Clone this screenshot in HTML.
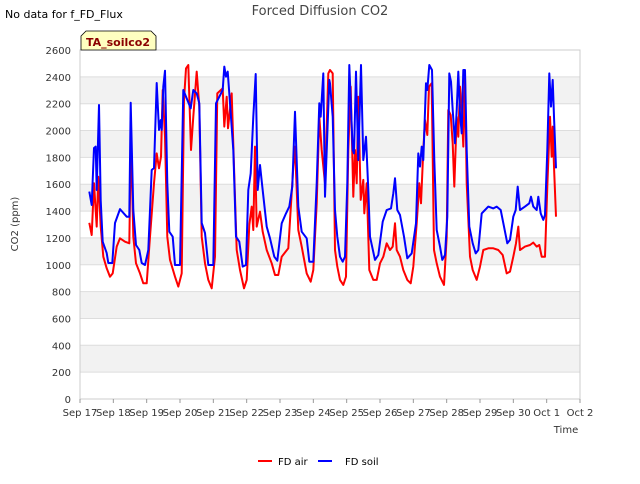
<!DOCTYPE html>
<html><head><meta charset="utf-8"><style>
body{margin:0;background:#fff;font-family:"DejaVu Sans","Liberation Sans",sans-serif;}
</style></head><body>
<svg id="chart" width="640" height="480" xmlns="http://www.w3.org/2000/svg" font-family="DejaVu Sans, Liberation Sans, sans-serif">
<text x="5" y="18" font-size="11" fill="#000">No data for f_FD_Flux</text>
<text x="320" y="15" font-size="13" fill="#444" text-anchor="middle">Forced Diffusion CO2</text>
<g id="plot"></g>
<g>
<path d="M81,50 L81,36 L86,31 L151,31 L156,36 L156,50 Z" fill="#ffffc0" stroke="#000" stroke-width="0.8"/>
<text x="118" y="46" font-size="11" font-weight="bold" fill="#8b0000" text-anchor="middle">TA_soilco2</text>
</g>
<text transform="translate(18,224) rotate(-90)" font-size="10" fill="#333" text-anchor="middle">CO2 (ppm)</text>
<text x="566" y="433" font-size="10" fill="#333" text-anchor="middle">Time</text>
<g>
<line x1="258" y1="461" x2="272" y2="461" stroke="#ff0000" stroke-width="2"/>
<text x="278" y="465" font-size="10" fill="#000">FD air</text>
<line x1="318" y1="461" x2="332" y2="461" stroke="#0000ff" stroke-width="2"/>
<text x="345" y="465" font-size="10" fill="#000">FD soil</text>
</g>
</svg>
<script>
const xTickLabels=["Sep 17","Sep 18","Sep 19","Sep 20","Sep 21","Sep 22","Sep 23","Sep 24","Sep 25","Sep 26","Sep 27","Sep 28","Sep 29","Sep 30","Oct 1","Oct 2"];
const yTicks=[0,200,400,600,800,1000,1200,1400,1600,1800,2000,2200,2400,2600];
const soilT=[0.28,0.35,0.42,0.47,0.50,0.57,0.62,0.68,0.80,0.85,0.97,1.05,1.20,1.40,1.48,1.52,1.60,1.68,1.78,1.85,1.95,2.05,2.15,2.22,2.30,2.37,2.42,2.45,2.50,2.55,2.62,2.68,2.78,2.85,3.00,3.10,3.32,3.40,3.50,3.58,3.65,3.75,3.85,4.00,4.08,4.28,4.33,4.38,4.43,4.48,4.60,4.68,4.78,4.88,4.98,5.05,5.12,5.20,5.27,5.33,5.40,5.47,5.60,5.70,5.83,5.92,6.05,6.18,6.28,6.37,6.45,6.55,6.65,6.80,6.88,7.00,7.10,7.18,7.22,7.30,7.35,7.48,7.50,7.58,7.65,7.72,7.80,7.88,7.95,8.02,8.08,8.18,8.22,8.28,8.35,8.43,8.50,8.58,8.65,8.70,8.85,8.95,9.08,9.20,9.33,9.40,9.45,9.52,9.60,9.72,9.82,9.95,10.08,10.15,10.20,10.25,10.30,10.38,10.42,10.48,10.56,10.63,10.70,10.80,10.87,10.95,11.02,11.08,11.13,11.18,11.25,11.30,11.35,11.40,11.45,11.50,11.55,11.60,11.68,11.78,11.87,11.95,12.05,12.15,12.25,12.40,12.50,12.62,12.72,12.82,12.90,13.00,13.07,13.13,13.20,13.35,13.48,13.53,13.60,13.70,13.75,13.82,13.90,13.95,14.02,14.08,14.13,14.18,14.22,14.28];
const soilV=[1545,1445,1870,1880,1557,2190,1480,1172,1087,1013,1013,1311,1415,1358,1358,2207,1408,1147,1110,1013,998,1110,1706,1721,2354,2004,2078,2004,2327,2446,1609,1246,1209,998,998,2302,2166,2302,2277,2203,1311,1237,998,998,2203,2302,2476,2401,2439,2277,1855,1209,1172,986,998,1557,1681,2103,2421,1557,1743,1582,1284,1197,1060,1030,1309,1383,1433,1582,2140,1433,1246,1197,1023,1023,1607,2203,2103,2426,1507,2377,2352,2103,1408,1209,1060,1023,1060,1607,2488,1855,1830,2439,1780,2488,1780,1954,1557,1209,1036,1073,1321,1408,1420,1532,1644,1408,1371,1209,1048,1085,1309,1830,1731,1880,1780,2352,2302,2488,2451,1780,1259,1135,1036,1073,1358,2426,2364,2153,1905,2153,2439,2128,1979,2451,2451,1855,1284,1160,1085,1110,1383,1408,1433,1420,1433,1408,1284,1160,1185,1358,1408,1582,1408,1433,1458,1507,1433,1408,1507,1383,1334,1371,1855,2426,2178,2377,2103,1719];
const airT=[0.28,0.35,0.42,0.50,0.55,0.62,0.70,0.80,0.90,0.98,1.10,1.20,1.35,1.48,1.53,1.60,1.68,1.80,1.90,2.00,2.10,2.22,2.30,2.37,2.43,2.48,2.55,2.62,2.70,2.85,2.95,3.05,3.12,3.18,3.25,3.33,3.40,3.50,3.58,3.65,3.75,3.85,3.95,4.05,4.12,4.28,4.33,4.40,4.44,4.55,4.62,4.70,4.80,4.92,5.00,5.08,5.15,5.20,5.25,5.30,5.40,5.48,5.60,5.75,5.85,5.95,6.05,6.25,6.40,6.45,6.55,6.65,6.80,6.92,7.00,7.10,7.18,7.25,7.35,7.45,7.50,7.58,7.65,7.72,7.80,7.90,7.98,8.05,8.12,8.20,8.25,8.30,8.35,8.42,8.50,8.53,8.60,8.68,8.80,8.90,9.00,9.10,9.20,9.30,9.38,9.45,9.50,9.60,9.70,9.82,9.92,10.00,10.10,10.18,10.23,10.30,10.35,10.42,10.47,10.55,10.62,10.70,10.80,10.92,11.00,11.05,11.12,11.18,11.23,11.30,11.35,11.40,11.45,11.50,11.55,11.60,11.70,11.78,11.90,12.00,12.10,12.25,12.40,12.55,12.68,12.80,12.90,13.00,13.08,13.15,13.20,13.35,13.50,13.60,13.70,13.78,13.85,13.95,14.02,14.10,14.15,14.18,14.22,14.28];
const airV=[1313,1222,1607,1284,1656,1284,1060,974,911,936,1135,1197,1172,1160,1979,1209,1011,936,862,862,1209,1607,1830,1719,1805,2302,1954,1209,1036,911,837,936,2228,2463,2488,1855,2103,2439,2178,1209,1011,887,825,1060,2277,2314,2029,2252,2017,2277,1731,1110,961,825,887,1296,1433,1259,1880,1284,1396,1246,1110,1011,924,924,1060,1123,1731,1880,1259,1135,936,874,961,1458,2103,1855,1607,2426,2451,2426,1110,986,887,850,911,1855,2327,1507,1855,1607,2252,1483,1632,1383,1607,961,887,887,1011,1060,1160,1110,1135,1309,1110,1060,961,887,862,986,1309,1607,1458,1855,2078,1967,2327,2352,1110,1011,911,850,1209,2153,2116,1905,1582,2103,1954,2327,2153,1880,2401,1607,1060,961,887,986,1110,1123,1123,1110,1073,936,949,1060,1160,1284,1110,1135,1147,1165,1135,1147,1060,1060,1582,2103,1805,2029,1731,1358];

const NS="http://www.w3.org/2000/svg";
const X0=80,X1=580,Y0=399,Y1=50,YMAX=2600,DAYS=15;
function xs(t){return X0+(t/DAYS)*(X1-X0);}
function ys(v){return Y0-(v/YMAX)*(Y0-Y1);}
const plot=document.getElementById('plot');
function mk(tag,attrs){const e=document.createElementNS(NS,tag);for(const k in attrs)e.setAttribute(k,attrs[k]);return e;}
// bands
for(let i=0;i<yTicks.length-1;i++){
  if(i%2===1){
    const r=mk('rect',{x:X0,y:ys(yTicks[i+1]),width:X1-X0,height:ys(yTicks[i])-ys(yTicks[i+1]),fill:'#f2f2f2'});
    
    
    plot.appendChild(r);
  }
}
yTicks.forEach(v=>{
  const l=mk('line',{x1:X0,x2:X1,y1:ys(v),y2:ys(v),stroke:'#ddd','stroke-width':1});
  
  
  plot.appendChild(l);
  const t=mk('text',{x:X0-9,y:ys(v)+4,'font-size':10,fill:'#333','text-anchor':'end'});
  t.textContent=v;
  
  
  plot.appendChild(t);
});
const frame=mk('rect',{x:X0,y:Y1,width:X1-X0,height:Y0-Y1,fill:'none',stroke:'#ccc'});


plot.appendChild(frame);
xTickLabels.forEach((s,i)=>{
  const tk=mk('line',{x1:xs(i),x2:xs(i),y1:Y0,y2:Y0+4,stroke:'#999'});
  
  
  plot.appendChild(tk);
  const t=mk('text',{x:xs(i),y:Y0+17,'font-size':10,fill:'#333','text-anchor':'middle'});
  t.textContent=s;
  
  
  plot.appendChild(t);
});
function series(T,V,color,name){
  const d=T.map((t,i)=>(i?'L':'M')+xs(t).toFixed(1)+','+ys(V[i]).toFixed(1)).join('');
  const p=mk('path',{d:d,fill:'none',stroke:color,'stroke-width':2,'stroke-linejoin':'round'});
  
  
  plot.appendChild(p);
}
series(airT,airV,'#ff0000','fd-air-line');
series(soilT,soilV,'#0000ff','fd-soil-line');
</script>
</body></html>
